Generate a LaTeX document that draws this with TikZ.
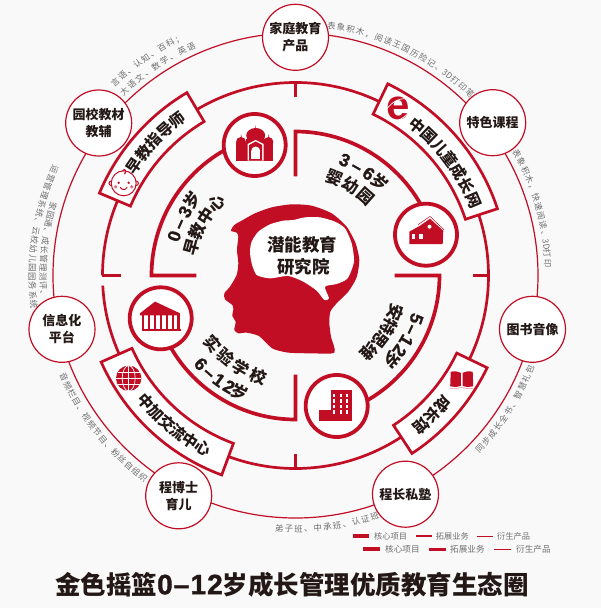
\documentclass[tikz,border=0pt]{standalone}
\usepackage{fontspec}
\setmainfont{Noto Sans CJK SC}
\newfontfamily\logofont{Liberation Sans}
\newfontfamily\digitfont[FakeBold=1.3]{Liberation Sans}
\definecolor{ringred}{HTML}{C10E25}
\definecolor{inkdark}{HTML}{231815}
\definecolor{notegray}{HTML}{6E6E6E}
\definecolor{pagebg}{HTML}{F9F9FA}
\tikzset{
    hubring/.style={ringred, line width=1.2pt},
    midring/.style={ringred, line width=2.7pt},
    corering/.style={ringred, line width=3.7pt},
    outerdot/.style={circle, draw=ringred, fill=white, line width=1.2pt, minimum size=66pt, inner sep=0pt, align=center, text=inkdark, font=\fontsize{13}{17}\selectfont\bfseries},
    icondot/.style={circle, draw=ringred, fill=white, line width=3.8pt, minimum size=62pt, inner sep=0pt},
    bannerbox/.style={draw=ringred, fill=white, line width=2.7pt},
    notechar/.style={text=notegray, inner sep=0pt, text height=7pt, text depth=1pt, font=\fontsize{8.4}{8}\selectfont},
    bannerchar/.style={text=inkdark, inner sep=0pt, text height=13pt, text depth=2pt, font=\fontsize{15.5}{16}\selectfont\bfseries},
    agechar/.style={text=inkdark, inner sep=0pt, text height=13.6pt, text depth=2pt, font=\fontsize{16.5}{17}\selectfont\bfseries},
    legendtext/.style={text=notegray, inner sep=0pt, anchor=west, font=\fontsize{8.2}{9}\selectfont},
}
\newcommand{\arcword}[7]{
    \foreach \ch [count=\i from 0] in {#7}{
        \pgfmathsetmacro\a{#4+\i*#5}
        \node[#1, rotate={\a#6}] (#2\i) at (\a:#3) {\ch};
    }
}
\newcommand{\banner}[2]{
    \draw[bannerbox] (#1:179) arc[start angle=#1, end angle=#2, radius=179] -- (#2:212.7) arc[start angle=#2, end angle=#1, radius=212.7] -- cycle;
}
\newcommand{\agedigit}[1]{{\digitfont\fontsize{18}{18}\selectfont #1}}
\begin{document}
\begin{tikzpicture}[x=1pt, y=1pt]
    \fill[pagebg] (-295.5,-332.5) rectangle (305.5,275.5);
    \useasboundingbox (-295.5,-332.5) rectangle (305.5,275.5);
    \coordinate (hub) at (0,0);

    \draw[hubring] (hub) circle[radius=242.5];
    \draw[midring] (183:193) arc[start angle=183, end angle=540, radius=193];
    \draw[midring] (0,193) -- (0,178);
    \draw[midring] (193,0) -- (177,0);
    \draw[midring] (0,-193) -- (0,-178);
    \draw[midring] (-193,0) -- (-174,0);

    \draw[corering] (-99,0) -- (-144,0) arc[start angle=180, end angle=107, radius=144];
    \draw[corering] (0,99) -- (0,144) arc[start angle=90, end angle=17, radius=144];
    \draw[corering] (99,0) -- (144,0) arc[start angle=0, end angle=-73, radius=144];
    \draw[corering] (0,-99) -- (0,-144) arc[start angle=270, end angle=197, radius=144];

    \banner{120.7}{157.2}
    \banner{18.3}{64.3}
    \banner{-25.7}{-56.8}
    \banner{204}{249.7}

    \node[outerdot] (family) at (0,238.2) {家庭教育\\产品};
    \node[outerdot] (course) at (197.2,152.8) {特色课程};
    \node[outerdot] (books) at (237,-53.8) {图书音像};
    \node[outerdot] (school) at (110,-218.7) {程长私塾};
    \node[outerdot] (parent) at (-116.8,-220.3) {程博士\\育儿};
    \node[outerdot] (info) at (-233.5,-53.8) {信息化\\平台};
    \node[outerdot] (campus) at (-196.8,152.5) {园校教材\\教辅};

    \node[icondot] (castle) at (-40.8,130.5) {};
    \node[icondot] (house) at (130.5,40.8) {};
    \node[icondot] (tower) at (41.2,-130.5) {};
    \node[icondot] (temple) at (-134.8,-42.8) {};

    % head
    \begin{scope}[shift={(-90.5,85.5)}, xscale=0.3333, yscale=-0.3333]
        \fill[ringred] plot[smooth cycle, tension=0.4] coordinates {(78,122) (88,105) (110,92) (150,70) (200,52) (260,43) (320,47) (380,70) (425,110) (452,160) (463,210) (455,262) (430,305) (395,340) (376,365) (373,400) (378,440) (388,488) (320,490) (250,488) (205,477) (180,455) (160,437) (125,428) (100,430) (88,420) (92,395) (82,378) (85,358) (82,345) (60,328) (58,310) (75,290) (95,255) (100,220) (96,180) (100,140) (95,128)};
        \fill[white] plot[smooth cycle, tension=0.4] coordinates {(135,185) (140,155) (160,125) (195,103) (235,92) (265,90) (300,82) (345,82) (390,95) (420,115) (440,160) (447,215) (428,265) (395,282) (360,290) (372,325) (358,330) (335,302) (295,275) (250,258) (195,265) (155,255) (140,220)};
    \end{scope}
    \node[text=inkdark, inner sep=0pt, font=\fontsize{17.5}{17}\selectfont\bfseries] (brainone) at (6.8,30.5) {潜能教育};
    \node[text=inkdark, inner sep=0pt, font=\fontsize{17.5}{17}\selectfont\bfseries] (braintwo) at (7.8,8.8) {研究院};

    % castle
    \begin{scope}[shift={(castle)}]
        \fill[ringred] (-18.7,-15.7) rectangle (-8.7,1.7);
        \fill[ringred] (8.7,-15.7) rectangle (18.7,1.7);
        \fill[ringred] (-8.7,-15.7) rectangle (11,6);
        \fill[ringred] (-13.7,3) circle[radius=5];
        \fill[ringred] (13.7,3) circle[radius=5];
        \fill[ringred] (1,9.5) ellipse[x radius=9.5, y radius=7.5];
        \fill[ringred] (-13.7,7) -- (-13.7,11) -- (-12.7,7) -- cycle;
        \fill[ringred] (13.7,7) -- (13.7,11) -- (14.7,7) -- cycle;
        \fill[ringred] (0.5,15) -- (1,20) -- (1.5,15) -- cycle;
        \fill[white] (-7,-15.7) -- (-7,1) -- (1,5) -- (9,1) -- (9,-15.7) -- cycle;
        \fill[ringred] (-5.5,-15.7) -- (-5.5,0) -- (1,3.5) -- (7.5,0) -- (7.5,-15.7) -- cycle;
        \fill[white] (-3.5,-14) rectangle (5.5,-6);
        \fill[white] (1,-6) circle[radius=4.5];
    \end{scope}

    % house
    \begin{scope}[shift={(house)}]
        \fill[ringred] (-16.7,3) -- (-6,9) -- (4,16) -- (17.3,4) -- (16.7,-9.3) -- (-16.7,-9.3) -- cycle;
        \draw[ringred, line width=0.5pt] (-8,10) -- (4,18.3) -- (18,5);
        \fill[white] (3.5,8) circle[radius=2];
        \fill[white] (-14.3,-4) rectangle (-11,0.3);
        \fill[white] (-6.7,-4) rectangle (-2.7,0.3);
    \end{scope}

    % tower
    \begin{scope}[shift={(tower)}]
        \fill[ringred] (-5.7,-14.7) rectangle (15,16);
        \fill[ringred] (-17.7,-14.7) rectangle (-5.7,-4);
        \foreach \wx in {-2.5,4,10.5}{
            \foreach \wy in {-6,-0.5,5,10.5}{
                \fill[white] (\wx-1,\wy-1.7) rectangle (\wx+1,\wy+1.7);
            }
        }
    \end{scope}

    % temple
    \begin{scope}[shift={(temple)}]
        \fill[ringred] (-20.7,5) -- (-5.7,16.7) -- (19.3,5) -- (19.3,3) -- (-20.7,3) -- cycle;
        \fill[ringred] (-19,-12.5) rectangle (20,-10.5);
        \foreach \cx in {-17.5,-11.5,-5.5,0.5,6.5,12.5,18}{
            \fill[ringred] (\cx-1.2,-11) rectangle (\cx+1.2,3);
        }
    \end{scope}

    % baby
    \begin{scope}[shift={(-171.8,92.2)}]
        \draw[ringred, fill=white, line width=1pt] (-12.5,0) circle[radius=2.2];
        \draw[ringred, fill=white, line width=1pt] (12.5,0) circle[radius=2.2];
        \draw[ringred, fill=white, line width=1pt] (0,0) circle[radius=12.5];
        \draw[ringred, line width=1.2pt] (-1,12.5) .. controls (1,15) and (3,13) .. (1,9);
        \fill[ringred] (-5,0.5) circle[radius=1.3];
        \fill[ringred] (5,0.5) circle[radius=1.3];
        \fill[ringred!60] (-8,-3.5) circle[radius=1.8];
        \fill[ringred!60] (8,-3.5) circle[radius=1.8];
        \draw[ringred, line width=1pt] (-3.5,-4) .. controls (-1.5,-7) and (1.5,-7) .. (3.5,-4);
    \end{scope}

    % e mark
    \node[text=ringred, inner sep=0pt, font=\logofont\fontsize{42}{42}\selectfont\bfseries] (emark) at (102.8,167) {e};
    \draw[white, line width=0.7pt, rotate around={35:(102.8,165.5)}] (102.8,165.5) ellipse[x radius=15, y radius=9];

    % globe
    \begin{scope}[shift={(-166.8,-102.8)}]
        \fill[ringred] (0,0) circle[radius=12.7];
        \draw[white, line width=0.7pt] (0,-12.7) -- (0,12.7);
        \draw[white, line width=0.7pt] (-12.7,0) -- (12.7,0);
        \draw[white, line width=0.7pt] (0,0) ellipse[x radius=6.5, y radius=12.7];
        \draw[white, line width=0.7pt] (-11,6) -- (11,6);
        \draw[white, line width=0.7pt] (-11,-6) -- (11,-6);
    \end{scope}

    % book
    \begin{scope}[shift={(166.2,-103.8)}]
        \fill[ringred] (-0.8,-6.5) .. controls (-5,-8) and (-8,-8) .. (-11.5,-7) -- (-11,7.5) .. controls (-7,8.5) and (-4,8) .. (-0.8,6.5) -- cycle;
        \fill[ringred] (0.8,-6.5) .. controls (5,-8) and (8,-8) .. (11.5,-7) -- (11,7.5) .. controls (7,8.5) and (4,8) .. (0.8,6.5) -- cycle;
        \draw[ringred!40, line width=0.6pt] (-11.5,-9) .. controls (-6,-10) and (-3,-9) .. (0,-8) .. controls (3,-9) and (6,-10) .. (11.5,-9);
    \end{scope}

    \arcword{bannerchar}{early}{195}{145.7}{-4.6}{-90}{早,教,指,导,师}
    \arcword{bannerchar}{web}{193}{50.8}{-4.63}{-90}{中,国,儿,童,成,长,网}
    \arcword{bannerchar}{hall}{195.5}{-41.2}{-4.4}{-90}{成,长,馆}
    \arcword{bannerchar}{intl}{196}{220.3}{4.3}{+90}{中,加,交,流,中,心}

    \arcword{agechar}{nurseryage}{127}{162}{-6}{-90}{\agedigit{0},\agedigit{–},\agedigit{3},岁}
    \arcword{agechar}{nursery}{107}{164.6}{-9}{-90}{早,教,中,心}
    \arcword{agechar}{kinderage}{125}{66.9}{-6.3}{-90}{\agedigit{3},\agedigit{–},\agedigit{6},岁}
    \arcword{agechar}{kinder}{105}{68.5}{-10}{-90}{婴,幼,园}
    \arcword{agechar}{thinkage}{128}{-19.7}{-5.4}{-90}{\agedigit{5},\agedigit{–},\agedigit{1},\agedigit{2},岁}
    \arcword{agechar}{think}{106}{-20}{-8.7}{-90}{安,特,思,维}
    \arcword{agechar}{labage}{130}{223.1}{5.35}{+90}{\agedigit{6},\agedigit{–},\agedigit{1},\agedigit{2},岁}
    \arcword{agechar}{lab}{108}{219.7}{10}{+90}{实,验,学,校}

    \arcword{notechar}{noteaa}{264}{133}{-2.1}{-90}{言,语,、,认,知,、,百,科,；}
    \arcword{notechar}{noteab}{251.5}{132.9}{-2.3}{-90}{大,语,文,、,数,学,、,英,语}
    \arcword{notechar}{notebb}{252}{81.8}{-2.22}{-90}{表,象,积,木,，,阅,读,王,国,历,险,记,、,3D,打,印,笔}
    \arcword{notechar}{notecc}{252.5}{28.8}{-2.17}{-90}{表,象,积,木,，,快,速,阅,读,、,3D,打,印}
    \arcword{notechar}{notedd}{252.8}{-43.1}{2.12}{+90}{同,步,成,长,全,书,、,智,慧,礼,包}
    \arcword{notechar}{noteee}{253.5}{266.3}{2.19}{+90}{弟,子,班,、,中,承,班,、,认,证,班}
    \arcword{notechar}{noteff}{253}{203.7}{2.09}{+90}{音,频,栏,目,、,视,频,节,目,、,粉,丝,自,组,织}
    \arcword{notechar}{notegg}{263.5}{156.3}{2}{+90}{运,营,管,理,系,统,、,云,校,幼,儿,园,园,务,系,统}
    \arcword{notechar}{notehh}{252.5}{164.1}{2.03}{+90}{家,园,通,、,成,长,管,理,测,评,、}

    \coordinate (keyaa) at (57.8,-260.5);
    \coordinate (keyab) at (73.8,-260.5);
    \coordinate (keyba) at (120.2,-260.5);
    \coordinate (keybb) at (136.2,-260.5);
    \coordinate (keyca) at (181.5,-260.5);
    \coordinate (keycb) at (197.2,-260.5);
    \draw[ringred, line width=3.5pt] (keyaa) -- (keyab);
    \draw[ringred, line width=2.5pt] (keyba) -- (keybb);
    \draw[ringred, line width=1pt] (keyca) -- (keycb);
    \node[legendtext] (keyat) at (78.5,-260.5) {核心项目};
    \node[legendtext] (keybt) at (140.2,-260.5) {拓展业务};
    \node[legendtext] (keyct) at (201.5,-260.5) {衍生产品};

    \coordinate (keyda) at (67.5,-273.8);
    \coordinate (keydb) at (84.5,-273.8);
    \coordinate (keyea) at (133.5,-273.8);
    \coordinate (keyeb) at (150.5,-273.8);
    \coordinate (keyfa) at (198.8,-273.8);
    \coordinate (keyfb) at (215.5,-273.8);
    \draw[ringred, line width=4pt] (keyda) -- (keydb);
    \draw[ringred, line width=3pt] (keyea) -- (keyeb);
    \draw[ringred, line width=1pt] (keyfa) -- (keyfb);
    \node[legendtext, font=\fontsize{8.6}{9}\selectfont] (keydt) at (89.5,-273.8) {核心项目};
    \node[legendtext, font=\fontsize{8.6}{9}\selectfont] (keyet) at (154.5,-273.8) {拓展业务};
    \node[legendtext, font=\fontsize{8.6}{9}\selectfont] (keyft) at (220.5,-273.8) {衍生产品};

    \node[text=inkdark, inner sep=0pt, font=\fontsize{25.5}{26}\selectfont\bfseries] (headline) at (-3.5,-309) {金色摇篮{\digitfont\fontsize{28}{28}\selectfont\addfontfeature{LetterSpace=4}0–12}岁成长管理优质教育生态圈};
\end{tikzpicture}
\end{document}
